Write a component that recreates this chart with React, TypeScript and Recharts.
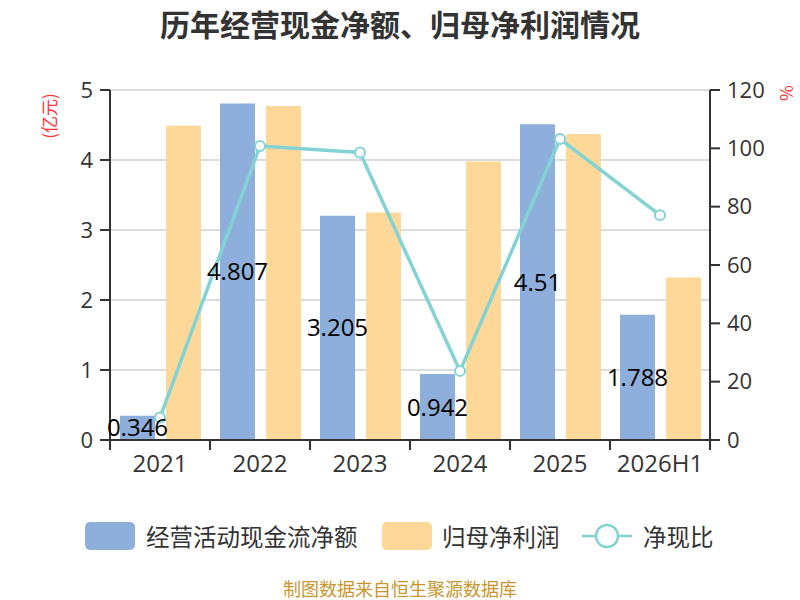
import React from 'react';
import {
  ComposedChart,
  Bar,
  Line,
  XAxis,
  YAxis,
  CartesianGrid,
  Legend,
  LabelList,
} from 'recharts';

const categories = ['2021', '2022', '2023', '2024', '2025', '2026H1'];
const cashFlow = [0.346, 4.807, 3.205, 0.942, 4.51, 1.788];
const netProfit = [4.49, 4.77, 3.25, 3.98, 4.37, 2.32];
const ratio = [7.7, 100.8, 98.6, 23.7, 103.2, 77.1];
const leftTicks = [0, 1, 2, 3, 4, 5];
const rightTicks = [0, 20, 40, 60, 80, 100, 120];

const data = categories.map((c, i) => ({
  name: c,
  cash: cashFlow[i],
  profit: netProfit[i],
  ratio: ratio[i],
}));

const BLUE = '#8eaedb';
const YELLOW = '#fed898';
const TEAL = '#83d3d5';
const FONT = "'Open Sans', 'Noto Sans CJK SC', sans-serif";
const CJK = "'Noto Sans CJK SC', sans-serif";

const XTick = (props: any) => {
  const { x, y, payload, index } = props;
  const half = payload?.offset ?? 0;
  const last = index === categories.length - 1;
  return (
    <g>
      <line x1={x - half} x2={x - half} y1={y - 8} y2={y + 2} stroke="#333" strokeWidth={2} />
      {last && (
        <line x1={x + half} x2={x + half} y1={y - 8} y2={y + 2} stroke="#333" strokeWidth={2} />
      )}
      <text
        x={x}
        y={y + 7}
        dy="0.71em"
        textAnchor="middle"
        fill="#333"
        fontSize={24}
        fontFamily={FONT}
      >
        {payload.value}
      </text>
    </g>
  );
};

const legendPos: Record<string, { rect: number; text: number }> = {
  cash: { rect: 85, text: 146 },
  profit: { rect: 382, text: 442 },
  ratio: { rect: 582, text: 643 },
};

const LegendContent = (props: any) => {
  const payload = props.payload || [];
  return (
    <svg width={800} height={40} style={{ display: 'block' }}>
      {payload.map((p: any, i: number) => {
        const pos = legendPos[p.dataKey] || legendPos.cash;
        const isLine = p.dataKey === 'ratio';
        return (
          <g key={i}>
            {isLine ? (
              <g>
                <line x1={pos.rect} x2={pos.rect + 50} y1={20} y2={20} stroke={TEAL} strokeWidth={2.5} />
                <circle cx={pos.rect + 25} cy={20} r={11} fill="#fff" stroke={TEAL} strokeWidth={2.5} />
              </g>
            ) : (
              <rect x={pos.rect} y={6} width={50} height={28} rx={5} fill={p.color} />
            )}
            <text
              x={pos.text}
              y={20}
              dominantBaseline="central"
              fontSize={23.5}
              fill="#333"
              fontFamily={CJK}
            >
              {p.value}
            </text>
          </g>
        );
      })}
    </svg>
  );
};

export default function App() {
  return (
    <div style={{ position: 'absolute', left: 0, top: 0, width: 800, height: 600, background: '#fff' }}>
      <div
        style={{
          position: 'absolute',
          left: 0,
          top: 5,
          width: 800,
          textAlign: 'center',
          fontFamily: CJK,
          fontWeight: 'bold',
          fontSize: 30,
          color: '#333',
          lineHeight: '36px',
        }}
      >
        历年经营现金净额、归母净利润情况
      </div>
      <ComposedChart
        width={800}
        height={600}
        data={data}
        margin={{ top: 90, right: 30, left: 40, bottom: 80 }}
        barCategoryGap="10%"
        barGap={11}
      >
        <CartesianGrid yAxisId="left" vertical={false} stroke="#d0d0d0" strokeWidth={1.5} />
        <XAxis
          dataKey="name"
          height={40}
          tickLine={false}
          axisLine={{ stroke: '#333', strokeWidth: 2 }}
          tick={<XTick />}
          interval={0}
        />
        <YAxis
          yAxisId="left"
          orientation="left"
          width={70}
          domain={[0, 5]}
          ticks={leftTicks}
          interval={0}
          tickSize={10}
          tickMargin={7}
          axisLine={{ stroke: '#333', strokeWidth: 2 }}
          tickLine={{ stroke: '#333', strokeWidth: 2 }}
          tick={{ fontSize: 22, fill: '#333', fontFamily: FONT }}
          label={(p: any) => {
            const vb = p.viewBox || { x: 40, y: 90 };
            const cx = vb.x + 8;
            const cy = vb.y + 26;
            return (
              <text
                x={cx}
                y={cy}
                transform={`rotate(-90 ${cx} ${cy})`}
                textAnchor="middle"
                dominantBaseline="central"
                fill="#ff3333"
                fontSize={17}
                fontFamily={CJK}
              >
                (亿元)
              </text>
            );
          }}
        />
        <YAxis
          yAxisId="right"
          orientation="right"
          width={60}
          domain={[0, 120]}
          ticks={rightTicks}
          interval={0}
          tickSize={10}
          tickMargin={7}
          axisLine={{ stroke: '#333', strokeWidth: 2 }}
          tickLine={{ stroke: '#333', strokeWidth: 2 }}
          tick={{ fontSize: 22, fill: '#333', fontFamily: FONT }}
          label={(p: any) => {
            const vb = p.viewBox || { x: 710, y: 90 };
            const cx = vb.x + 77;
            const cy = vb.y + 3;
            return (
              <text
                x={cx}
                y={cy}
                transform={`rotate(90 ${cx} ${cy})`}
                textAnchor="middle"
                dominantBaseline="central"
                fill="#ff3333"
                fontSize={17}
                fontFamily={CJK}
              >
                %
              </text>
            );
          }}
        />
        <Legend
          content={<LegendContent />}
          wrapperStyle={{ position: 'absolute', left: 0, top: 516, width: 800, height: 40 }}
        />
        <Bar yAxisId="left" dataKey="cash" name="经营活动现金流净额" fill={BLUE} isAnimationActive={false}>
          <LabelList
            dataKey="cash"
            position="center"
            fill="#000"
            fontSize={24}
            fontFamily={FONT}
          />
        </Bar>
        <Bar yAxisId="left" dataKey="profit" name="归母净利润" fill={YELLOW} isAnimationActive={false} />
        <Line
          yAxisId="right"
          dataKey="ratio"
          name="净现比"
          stroke={TEAL}
          strokeWidth={3.5}
          dot={{ r: 5, fill: '#fff', stroke: TEAL, strokeWidth: 2 }}
          activeDot={false}
          legendType="line"
          isAnimationActive={false}
        />
      </ComposedChart>
      <div
        style={{
          position: 'absolute',
          left: 0,
          top: 576,
          width: 800,
          textAlign: 'center',
          fontFamily: CJK,
          fontSize: 18,
          color: '#c9962e',
          lineHeight: '24px',
        }}
      >
        制图数据来自恒生聚源数据库
      </div>
    </div>
  );
}
